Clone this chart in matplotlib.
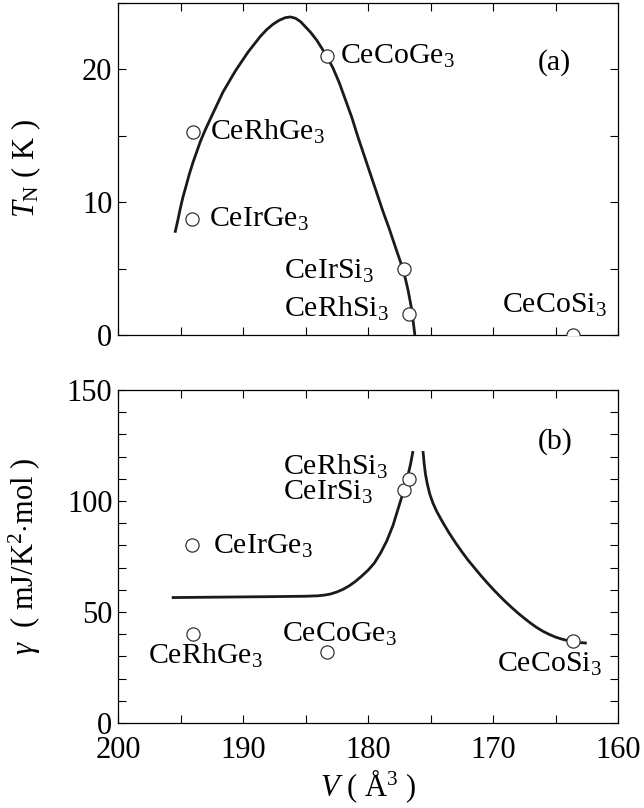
import matplotlib
matplotlib.use("Agg")
import matplotlib.pyplot as plt
from matplotlib.ticker import MultipleLocator

plt.rcParams['font.family'] = ['Liberation Serif', 'DejaVu Serif']
plt.rcParams['mathtext.fontset'] = 'custom'
plt.rcParams['mathtext.rm'] = 'Liberation Serif'
plt.rcParams['mathtext.it'] = 'Liberation Serif:italic'

# ---- data ----
compounds = ['CeRhGe3', 'CeIrGe3', 'CeCoGe3', 'CeIrSi3', 'CeRhSi3', 'CeCoSi3']
labels_tex = ['CeRhGe$_3$', 'CeIrGe$_3$', 'CeCoGe$_3$', 'CeIrSi$_3$', 'CeRhSi$_3$', 'CeCoSi$_3$']
volume = [194.0, 194.1, 183.3, 177.1, 176.7, 163.6]
TN = [15.3, 8.7, 21.0, 5.0, 1.6, 0.0]
gamma = [40, 80, 32, 105, 110, 37]

# guide curve (a)
curveA_V = [195.44, 195.2, 195.0, 194.8, 194.56, 194.3, 194.0, 193.7, 193.4, 193.04,
            192.6, 192.1, 191.6, 191.1, 190.6, 190.1, 189.6, 189.1, 188.6, 188.1,
            187.6, 187.1, 186.6, 186.2, 185.8, 185.4, 185.0, 184.6, 184.1, 183.7,
            183.3, 182.8, 182.3, 181.8, 181.3, 180.8, 180.3, 179.8, 179.3, 178.8,
            178.3, 177.8, 177.4, 177.1, 176.8, 176.5, 176.25]
curveA_T = [7.7, 8.7, 9.6, 10.4, 11.2, 12.1, 13.0, 13.8, 14.6, 15.4,
            16.3, 17.3, 18.3, 19.1, 19.9, 20.6, 21.3, 21.9, 22.5, 23.0,
            23.4, 23.7, 23.9, 23.95, 23.85, 23.6, 23.2, 22.8, 22.2, 21.6,
            21.0, 20.1, 19.0, 17.7, 16.4, 14.9, 13.5, 12.1, 10.7, 9.3,
            8.0, 6.6, 5.5, 4.6, 3.4, 1.9, 0.0]

# guide curve (b), left branch and right branch
curveB1_V = [195.7, 192.0, 188.0, 185.0, 184.0, 183.5, 183.0, 182.5, 182.0, 181.5,
             181.0, 180.5, 180.0, 179.5, 179.0, 178.5, 178.0, 177.7, 177.4, 177.1,
             176.85, 176.6, 176.4]
curveB1_G = [56.5, 56.7, 56.9, 57.1, 57.3, 57.6, 58.1, 59.0, 60.2, 61.8,
             63.8, 66.2, 68.8, 72.0, 76.5, 82.0, 89.0, 94.5, 100.0, 105.5,
             110.5, 116.5, 122.5]
curveB2_V = [175.6, 175.5, 175.4, 175.25, 175.05, 174.8, 174.5, 174.2, 174.0, 173.5,
             173.0, 172.5, 172.0, 171.5, 171.0, 170.5, 170.0, 169.5, 169.0, 168.5,
             168.0, 167.5, 167.0, 166.5, 166.0, 165.5, 165.0, 164.5, 164.0, 163.5,
             163.0, 162.5]
curveB2_G = [122.5, 116.5, 112.0, 107.5, 103.0, 99.0, 95.3, 92.2, 90.2, 85.5,
             81.2, 77.2, 73.4, 70.0, 66.6, 63.4, 60.3, 57.4, 54.6, 52.0,
             49.5, 47.2, 45.0, 43.0, 41.3, 39.9, 38.7, 37.8, 37.1, 36.6,
             36.2, 36.0]

# label positions (a) and (b): (V, value)
labA = {'CeRhGe3': (192.6, 15.3), 'CeIrGe3': (192.7, 8.7),
        'CeCoGe3': (182.2, 21.0), 'CeIrSi3': (186.7, 4.8),
        'CeRhSi3': (186.7, 2.0), 'CeCoSi3': (169.3, 2.25)}
labB = {'CeRhGe3': (197.6, 30.0), 'CeIrGe3': (192.4, 79.7),
        'CeCoGe3': (186.9, 39.8), 'CeIrSi3': (186.8, 104.0),
        'CeRhSi3': (186.8, 115.5), 'CeCoSi3': (169.65, 26.3)}

W, H = 644, 808
fig = plt.figure(figsize=(W/100, H/100), dpi=100)
left, right = 118/W, 618/W
axA = fig.add_axes([left, 1-335/H, right-left, (335-3)/H])
axB = fig.add_axes([left, 1-723/H, right-left, (723-390)/H])

FS_TICK = 22
FS_LAB = 21.5

for ax in (axA, axB):
    ax.set_xlim(200, 160)
    ax.xaxis.set_major_locator(MultipleLocator(10))
    ax.xaxis.set_minor_locator(MultipleLocator(5))
    ax.tick_params(which='both', direction='in', top=True, right=True, length=6,
                   width=0.8, labelsize=FS_TICK, pad=4)
    for s in ax.spines.values():
        s.set_linewidth(0.9)

axA.set_ylim(0, 25)
axA.yaxis.set_major_locator(MultipleLocator(10))
axA.yaxis.set_minor_locator(MultipleLocator(5))
axA.tick_params(axis='x', labelbottom=False)

axB.set_ylim(0, 150)
axB.yaxis.set_major_locator(MultipleLocator(50))
axB.yaxis.set_minor_locator(MultipleLocator(10))
axB.tick_params(axis='x', pad=9.5)

lc = '#1a1a1a'
axA.plot(curveA_V, curveA_T, color=lc, lw=2.0, solid_capstyle='butt', zorder=2)
axB.plot(curveB1_V, curveB1_G, color=lc, lw=2.0, solid_capstyle='butt', zorder=2)
axB.plot(curveB2_V, curveB2_G, color=lc, lw=2.0, solid_capstyle='butt', zorder=2)

mk = dict(ls='none', marker='o', ms=9.5, mfc='white', mec='#333333', mew=0.9, zorder=3)
axA.plot(volume, TN, **mk)
axB.plot(volume, gamma, **mk)

for c, t in zip(compounds, labels_tex):
    x, y = labA[c]
    axA.text(x, y, t, ha='left', va='center', fontsize=FS_LAB)
    x, y = labB[c]
    axB.text(x, y, t, ha='left', va='center', fontsize=FS_LAB)

axA.text(165.1, 20.5, '(a)', ha='center', va='center', fontsize=FS_LAB)
axB.text(165.0, 127, '(b)', ha='center', va='center', fontsize=FS_LAB)

axA.set_ylabel(r'$T_{\mathrm{N}}$ ( K )', fontsize=FS_TICK)
axB.set_ylabel(r'$\gamma$  ( mJ/K$^2$$\cdot$mol )', fontsize=FS_TICK)
axB.set_xlabel(r'$V$ ( Å$^3$ )', fontsize=FS_TICK, labelpad=1.5)
axA.yaxis.set_label_coords(-0.15, 0.5)
axB.yaxis.set_label_coords(-0.15, 0.5)

fig.savefig('out.png', dpi=100)
